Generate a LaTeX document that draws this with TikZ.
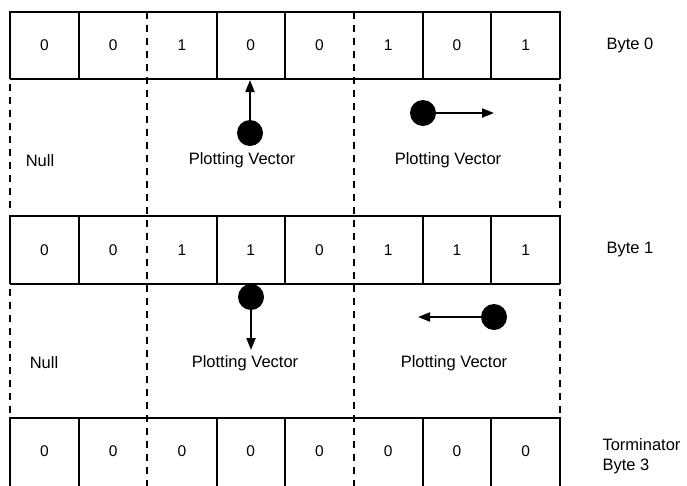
\documentclass[tikz,border=0pt]{standalone}
\usepackage{fontspec}
\setmainfont{Liberation Sans}
\usetikzlibrary{arrows.meta}
\begin{document}
\begin{tikzpicture}[x=1pt,y=-1pt,
  grid/.style={line width=1.8pt},
  dashsep/.style={line width=2pt,dash pattern=on 7pt off 6pt},
  bit/.style={font=\fontsize{15.5}{18}\selectfont},
  lbl/.style={font=\fontsize{16.5}{20}\selectfont},
  dot/.style={circle,fill=black,inner sep=0pt,minimum size=26pt},
  vec/.style={line width=2pt,-{Triangle[length=12pt,width=9pt]}}]
\useasboundingbox (0,0) rectangle (687,485);
\fill[white] (0,0) rectangle (687,485);
% rows
\foreach \top/\bot in {12/79,216/284,418/500}{
  \draw[grid] (10,\bot) -- (10,\top) -- (560,\top) -- (560,\bot);
  \draw[grid] (10,\bot) -- (560,\bot);
  \foreach \xx in {79,217,285,423,491}{\draw[grid] (\xx,\top) -- (\xx,\bot);}
}
% dashed separators
\foreach \xx in {147,354}{\draw[dashsep] (\xx,12) -- (\xx,490);}
\foreach \xx in {10,560}{
  \draw[dashsep] (\xx,84) -- (\xx,214);
  \draw[dashsep] (\xx,289) -- (\xx,416);
}
% bits
\foreach \b [count=\i from 0] in {0,0,1,0,0,1,0,1}{
  \node[bit] (a\i) at ({10+68.75*(\i+0.5)},45.5) {\b};}
\foreach \b [count=\i from 0] in {0,0,1,1,0,1,1,1}{
  \node[bit] (b\i) at ({10+68.75*(\i+0.5)},250) {\b};}
\foreach \b [count=\i from 0] in {0,0,0,0,0,0,0,0}{
  \node[bit] (c\i) at ({10+68.75*(\i+0.5)},451) {\b};}
% labels right
\node[lbl,anchor=west] (byte0) at (603,45.5) {Byte 0};
\node[lbl,anchor=west] (byte1) at (603,250) {Byte 1};
\node[lbl,anchor=west,align=left] (term) at (599,456) {Torminator\\Byte 3};
% gap labels
\node[lbl] (null1) at (40,161) {Null};
\node[lbl] (pv1) at (242,160) {Plotting Vector};
\node[lbl] (pv2) at (448,160) {Plotting Vector};
\node[lbl] (null2) at (44,363) {Null};
\node[lbl] (pv3) at (245,363) {Plotting Vector};
\node[lbl] (pv4) at (454,363) {Plotting Vector};
% vectors
\node[dot] (d1) at (250,133) {};
\coordinate (e1) at (250,80);
\draw[vec] (d1.center) -- (e1);
\node[dot] (d2) at (423,113) {};
\coordinate (e2) at (494,113);
\draw[vec] (d2.center) -- (e2);
\node[dot] (d3) at (251,297) {};
\coordinate (e3) at (251,350);
\draw[vec] (d3.center) -- (e3);
\node[dot] (d4) at (494,317) {};
\coordinate (e4) at (418,317);
\draw[vec] (d4.center) -- (e4);
\end{tikzpicture}
\end{document}
